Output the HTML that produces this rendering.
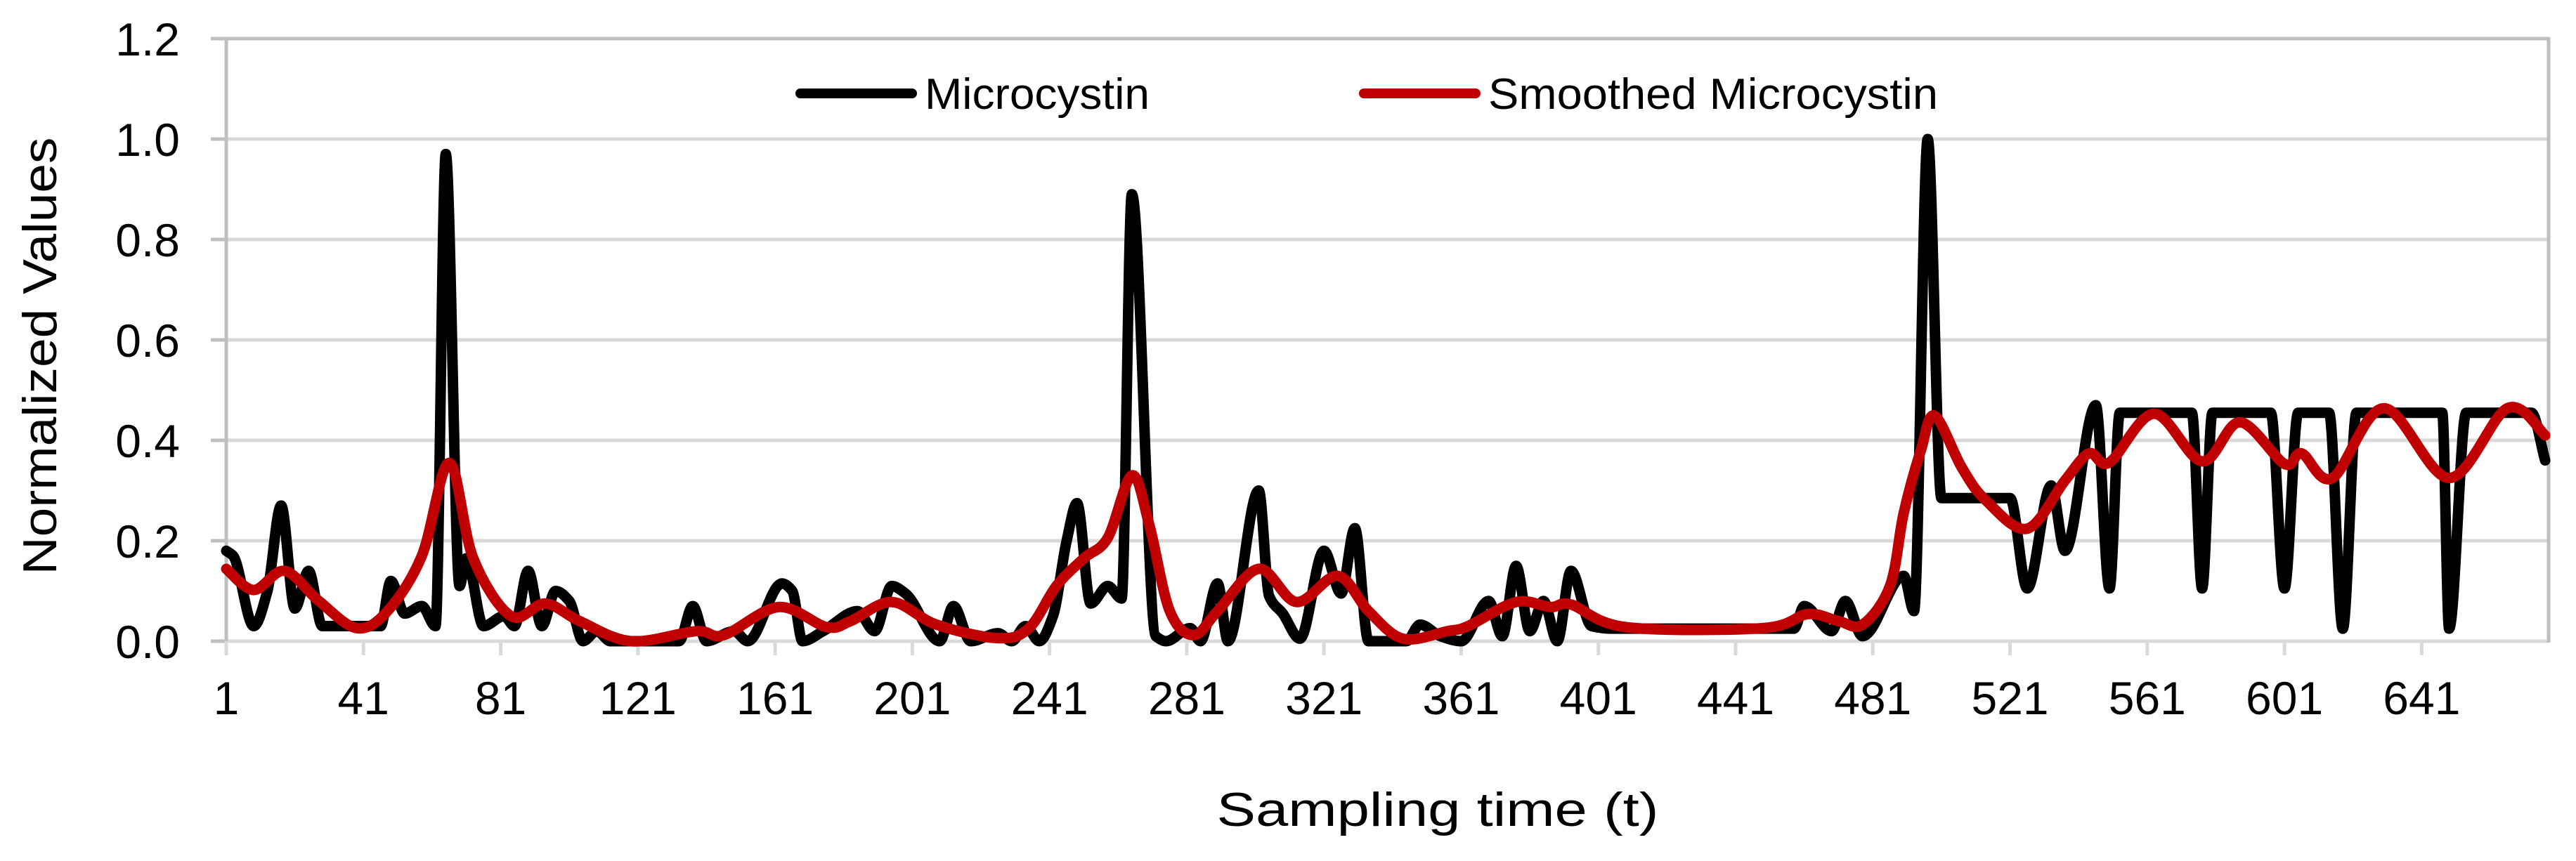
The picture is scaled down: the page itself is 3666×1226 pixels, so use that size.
<!DOCTYPE html>
<html><head><meta charset="utf-8"><title>Microcystin chart</title>
<style>
html,body{margin:0;padding:0;background:#fff;}
svg{display:block;font-family:"Liberation Sans",Arial,sans-serif;}
</style></head>
<body>
<svg id="chart" width="3666" height="1226" viewBox="0 0 3666 1226" xmlns="http://www.w3.org/2000/svg">
<rect x="0" y="0" width="3666" height="1226" fill="#fff"/>
<g id="grid"></g>
<g id="axes"></g>
<g id="series"></g>
<g id="legend">
  <g>
    <line x1="1139" y1="133" x2="1298" y2="133" stroke="#000" stroke-width="14" stroke-linecap="round"/>
    <text x="1316" y="155" font-size="62" textLength="320" lengthAdjust="spacingAndGlyphs" fill="#000">Microcystin</text>
  </g>
  <g>
    <line x1="1941" y1="133" x2="2100" y2="133" stroke="#c00000" stroke-width="14" stroke-linecap="round"/>
    <text x="2118" y="155" font-size="62" textLength="640" lengthAdjust="spacingAndGlyphs" fill="#000">Smoothed Microcystin</text>
  </g>
</g>
<text x="2046" y="1176" font-size="68" text-anchor="middle" textLength="629" lengthAdjust="spacingAndGlyphs">Sampling time (t)</text>
<text transform="translate(80,507) rotate(-90)" x="0" y="0" font-size="68" text-anchor="middle" textLength="623" lengthAdjust="spacingAndGlyphs">Normalized Values</text>
</svg>
<script>
const xTickLabels = [1,41,81,121,161,201,241,281,321,361,401,441,481,521,561,601,641];
const yTickLabels = ["0.0","0.2","0.4","0.6","0.8","1.0","1.2"];
const yTickValues = [0,0.2,0.4,0.6,0.8,1.0,1.2];
const rawT = [1,3,9,13,17,21,25,29,46,49,53,58,62,65,69,71,76,82,85,89,93,97,101,105,109,113,133,137,141,149,153,163,166,169,175,185,190,195,199,209,213,218,226,230,234,238,242,246,249,253,258,262,265,272,275,282,285,290,293,302,305,309,314,321,326,330,334,345,349,355,361,369,373,377,381,385,389,393,399,405,458,461,469,473,478,490,493,497,501,521,526,533,537,546,550,553,574,577,580,597,601,605,614,618,622,647,649,654,673,677];
const rawV = [0.18,0.17,0.03,0.1,0.27,0.065,0.14,0.03,0.03,0.12,0.055,0.07,0.03,0.97,0.11,0.165,0.03,0.05,0.03,0.14,0.03,0.1,0.08,0.0,0.02,0.0,0.0,0.07,0.0,0.02,0.0,0.115,0.1,0.0,0.02,0.06,0.02,0.11,0.095,0.0,0.07,0.0,0.016,0.0,0.03,0.0,0.05,0.2,0.275,0.075,0.11,0.085,0.89,0.01,0.0,0.026,0.0,0.115,0.0,0.3,0.09,0.055,0.005,0.18,0.095,0.225,0.0,0.0,0.033,0.01,0.0,0.08,0.01,0.15,0.02,0.08,0.0,0.14,0.03,0.025,0.025,0.07,0.02,0.08,0.01,0.13,0.06,1.0,0.285,0.285,0.105,0.31,0.18,0.47,0.105,0.455,0.455,0.105,0.455,0.455,0.105,0.455,0.455,0.025,0.455,0.455,0.025,0.455,0.455,0.36];
const smoothT = [1,9,18,28,39,48,58,66,73,84,94,104,119,138,146,162,176,183,195,208,226,235,243,251,258,265,270,276,283,290,302,313,325,334,344,357,363,377,387,393,409,449,462,471,478,486,490,495,499,507,514,526,537,544,550,563,577,588,601,606,615,630,649,666,677];
const smoothV = [0.144,0.102,0.14,0.08,0.026,0.06,0.17,0.355,0.165,0.05,0.075,0.04,0.0,0.02,0.012,0.068,0.028,0.04,0.078,0.033,0.006,0.026,0.11,0.165,0.206,0.33,0.234,0.061,0.012,0.06,0.144,0.078,0.13,0.06,0.005,0.02,0.03,0.078,0.068,0.073,0.028,0.026,0.054,0.04,0.033,0.11,0.255,0.38,0.449,0.345,0.28,0.224,0.32,0.374,0.356,0.453,0.358,0.436,0.353,0.374,0.325,0.464,0.325,0.464,0.41];

const NS = "http://www.w3.org/2000/svg";
const X0 = 322, X1 = 3627, Y0 = 913, YTOP = 55, TMAX = 678;
function xScale(t){ return X0 + (t - 1) * (X1 - X0) / (TMAX - 1); }
function yScale(v){ return Y0 - v * (Y0 - YTOP) / 1.2; }
function mk(tag, attrs, parent){
  const el = document.createElementNS(NS, tag);
  for (const k in attrs) el.setAttribute(k, attrs[k]);
  parent.appendChild(el);
  return el;
}
const grid = document.getElementById('grid');
const axes = document.getElementById('axes');
const series = document.getElementById('series');

yTickValues.forEach((v, i) => {
  const y = yScale(v);
  if (v > 0) {
    const g = mk('line', {x1: X0, x2: X1, y1: y, y2: y, stroke: '#d9d9d9', 'stroke-width': 5}, grid);
    
    
  }
  const tk = mk('line', {x1: 300, x2: X0, y1: y, y2: y, stroke: '#bfbfbf', 'stroke-width': 5}, axes);
  
  
  const lb = mk('text', {x: 256, y: y + 24, 'font-size': 66, 'text-anchor': 'end', fill: '#000'}, axes);
  lb.textContent = yTickLabels[i];
  
  
});
const xa = mk('line', {x1: X0, x2: X1, y1: Y0, y2: Y0, stroke: '#d9d9d9', 'stroke-width': 5}, axes);


const ya = mk('line', {x1: X0, x2: X0, y1: YTOP - 2, y2: Y0 + 2, stroke: '#bfbfbf', 'stroke-width': 5}, axes);


const rb = mk('line', {x1: X1, x2: X1, y1: YTOP - 2, y2: Y0 + 2, stroke: '#bfbfbf', 'stroke-width': 5}, axes);


const tb = mk('line', {x1: X0, x2: X1, y1: YTOP, y2: YTOP, stroke: '#bfbfbf', 'stroke-width': 5}, axes);



xTickLabels.forEach(t => {
  const x = xScale(t);
  const tk = mk('line', {x1: x, x2: x, y1: Y0, y2: 933, stroke: '#d9d9d9', 'stroke-width': 5}, axes);
  
  
  const lb = mk('text', {x: x, y: 1017, 'font-size': 66, 'text-anchor': 'middle', fill: '#000'}, axes);
  lb.textContent = String(t);
  
  
});

function smoothPath(T, V){
  const P = T.map((t, i) => [xScale(t), yScale(V[i])]);
  let d = 'M' + P[0][0].toFixed(1) + ',' + P[0][1].toFixed(1);
  for (let i = 0; i < P.length - 1; i++){
    const p0 = P[Math.max(0, i - 1)], p1 = P[i], p2 = P[i + 1], p3 = P[Math.min(P.length - 1, i + 2)];
    const c1 = [p1[0] + (p2[0] - p0[0]) / 6, p1[1] + (p2[1] - p0[1]) / 6];
    const c2 = [p2[0] - (p3[0] - p1[0]) / 6, p2[1] - (p3[1] - p1[1]) / 6];
    d += 'C' + c1[0].toFixed(1) + ',' + c1[1].toFixed(1) + ' ' + c2[0].toFixed(1) + ',' + c2[1].toFixed(1) + ' ' + p2[0].toFixed(1) + ',' + p2[1].toFixed(1);
  }
  return d;
}
// monotone cubic (no overshoot) for the raw series
function monotonePath(T, V){
  const xs = T.map(xScale), ys = V.map(yScale), n = xs.length;
  const dx = [], s = [];
  for (let i = 0; i < n - 1; i++){ dx.push(xs[i+1]-xs[i]); s.push((ys[i+1]-ys[i])/dx[i]); }
  const m = new Array(n);
  m[0] = s[0]; m[n-1] = s[n-2];
  for (let i = 1; i < n - 1; i++){
    if (s[i-1] * s[i] <= 0) m[i] = 0;
    else { const w1 = 2*dx[i] + dx[i-1], w2 = dx[i] + 2*dx[i-1]; m[i] = (w1 + w2) / (w1 / s[i-1] + w2 / s[i]); }
  }
  let d = 'M' + xs[0].toFixed(1) + ',' + ys[0].toFixed(1);
  for (let i = 0; i < n - 1; i++){
    const h = dx[i] / 3;
    d += 'C' + (xs[i]+h).toFixed(1) + ',' + (ys[i]+m[i]*h).toFixed(1) + ' ' + (xs[i+1]-h).toFixed(1) + ',' + (ys[i+1]-m[i+1]*h).toFixed(1) + ' ' + xs[i+1].toFixed(1) + ',' + ys[i+1].toFixed(1);
  }
  return d;
}
const raw = mk('path', {d: monotonePath(rawT, rawV), fill: 'none', stroke: '#000', 'stroke-width': 15, 'stroke-linejoin': 'round', 'stroke-linecap': 'round'}, series);


const sm = mk('path', {d: smoothPath(smoothT, smoothV), fill: 'none', stroke: '#c00000', 'stroke-width': 15, 'stroke-linejoin': 'round', 'stroke-linecap': 'round'}, series);


</script>
</body></html>
